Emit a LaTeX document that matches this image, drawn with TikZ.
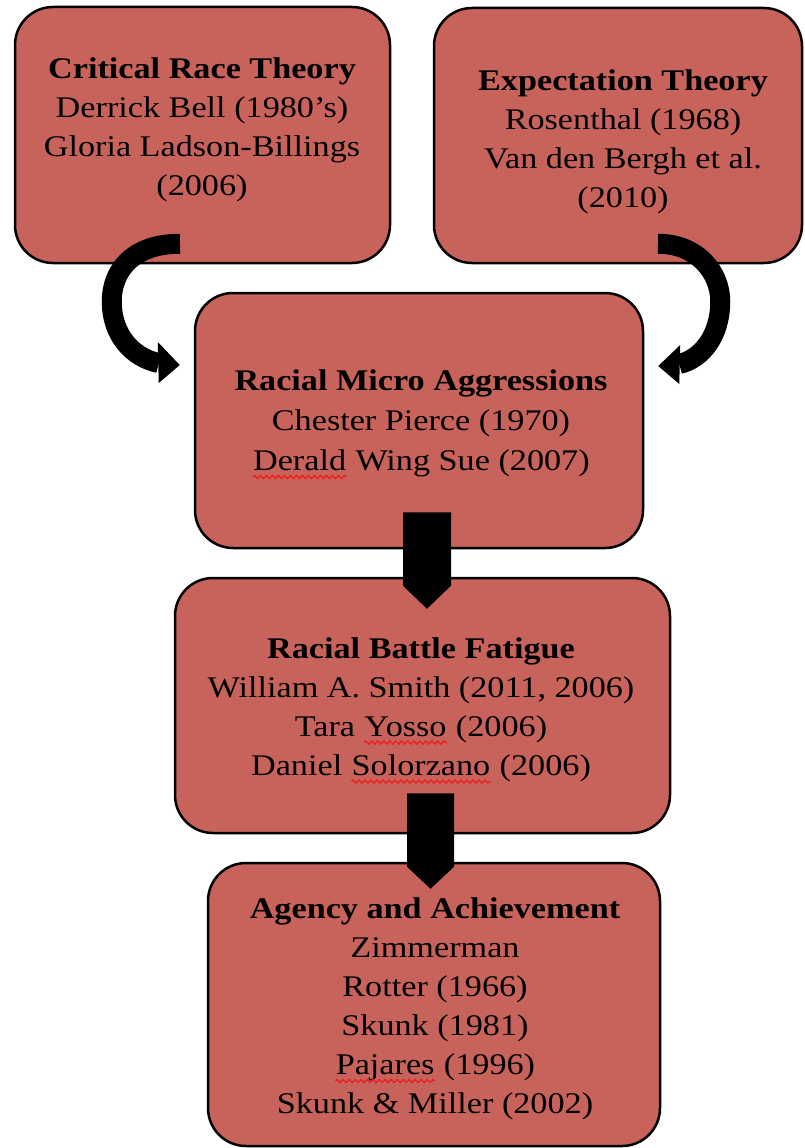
\documentclass[tikz,border=0pt]{standalone}
\usepackage{fontspec}
\setmainfont{Liberation Serif}[FakeStretch=1.14]
\usetikzlibrary{calc,decorations.pathmorphing}
\definecolor{boxred}{RGB}{200,99,91}
\definecolor{squig}{RGB}{235,30,30}
\newcommand\spellmark[1]{\tikz[baseline=(w.base)]{\node[inner sep=0pt, anchor=base, align=left, execute at begin node={}] (w) {#1};
  \draw[squig, line width=1.3pt, decorate, decoration={zigzag, amplitude=1.6pt, segment length=6pt}] ([yshift=-6.5pt]w.base west) -- ([yshift=-6.5pt]w.base east);}}
\begin{document}
\begin{tikzpicture}[x=1pt,y=-1pt,
  box/.style={draw=black, line width=2.5pt, fill=boxred, rounded corners=38pt, inner sep=0pt},
  boxtext/.style={anchor=north, inner sep=0pt, align=center, text=black,
    font=\fontsize{30}{39}\selectfont, execute at begin node={\fontsize{30}{39}\selectfont\strut}},
  band/.style={draw=black, line width=20pt, line cap=butt},
  headfill/.style={fill=black}]

\useasboundingbox (0,0) rectangle (804,1148);
\fill[white] (0,0) rectangle (804,1148);

% boxes
\node[box, minimum width=375pt, minimum height=256pt] (crt) at (202.5,135) {};
\node[box, minimum width=368pt, minimum height=255pt] (exp) at (618,135.5) {};
\node[box, minimum width=448pt, minimum height=255pt] (micro) at (419,420.5) {};
\node[box, minimum width=495pt, minimum height=255pt] (battle) at (422.5,705.5) {};
\node[box, minimum width=452pt, minimum height=283pt] (agency) at (434,1004.5) {};

% texts
\node[boxtext] (crt-t) at (202,57.7) {\textbf{Critical Race Theory}\\Derrick Bell (1980’s)\\Gloria Ladson-Billings\\(2006)};
\node[boxtext] (exp-t) at (623,69.7) {\textbf{Expectation Theory}\\Rosenthal (1968)\\Van den Bergh et al.\\(2010)};
\node[boxtext, execute at begin node={\fontsize{30}{40}\selectfont\strut}] (micro-t) at (421,369.5) {\textbf{Racial Micro Aggressions}\\Chester Pierce (1970)\\\spellmark{Derald} Wing Sue (2007)};
\node[boxtext] (battle-t) at (421,637) {\textbf{Racial Battle Fatigue}\\William A. Smith (2011, 2006)\\Tara \spellmark{Yosso} (2006)\\Daniel \spellmark{Solorzano} (2006)};
\node[boxtext] (agency-t) at (435,897.5) {\textbf{Agency and Achievement}\\Zimmerman\\Rotter (1966)\\Skunk (1981)\\\spellmark{Pajares} (1996)\\Skunk \& Miller (2002)};

% curved arrow: Critical Race Theory -> Racial Micro Aggressions
\coordinate (a1s) at ($(crt.south)+(-22.5,-20.5)$);
\coordinate (a1m) at ($(crt.south west)+(98,37)$);
\coordinate (a1e) at ($(micro.west)+(-35,-57.5)$);
\draw[band] (a1s) .. controls +(-50,0) and +(0,-28) .. (a1m)
  .. controls +(0,35) and +(-25,-5) .. (a1e);
\fill[headfill] ($(a1e)+(-1,-21)$) -- ($(a1e)+(21,2)$) -- ($(a1e)+(0,20)$) -- cycle;

% curved arrow: Expectation Theory -> Racial Micro Aggressions
\coordinate (a2s) at ($(exp.south)+(40,-20.5)$);
\coordinate (a2m) at ($(exp.south east)+(-83,37)$);
\coordinate (a2e) at ($(micro.east)+(35,-56.5)$);
\draw[band] (a2s) .. controls +(40,0) and +(0,-28) .. (a2m)
  .. controls +(0,35) and +(22,-5) .. (a2e);
\fill[headfill] ($(a2e)+(1,-19)$) -- ($(a2e)+(-21,2)$) -- ($(a2e)+(0,20)$) -- cycle;

% block arrow: Micro Aggressions -> Battle Fatigue
\coordinate (b1s) at ($(micro.south)+(8,-37)$);
\coordinate (b1e) at ($(battle.north)+(4.5,32)$);
\fill[headfill] ($(b1s)+(-24,0)$) -- ($(b1s)+(24,0)$) -- ($(b1e)+(24,-23)$) -- (b1e) -- ($(b1e)+(-24,-23)$) -- cycle;

% block arrow: Battle Fatigue -> Agency
\coordinate (b2s) at ($(battle.south)+(8,-41)$);
\coordinate (b2e) at ($(agency.north)+(-3.5,27)$);
\fill[headfill] ($(b2s)+(-23.5,0)$) -- ($(b2s)+(23.5,0)$) -- ($(b2e)+(23.5,-22)$) -- (b2e) -- ($(b2e)+(-23.5,-22)$) -- cycle;
\end{tikzpicture}
\end{document}
